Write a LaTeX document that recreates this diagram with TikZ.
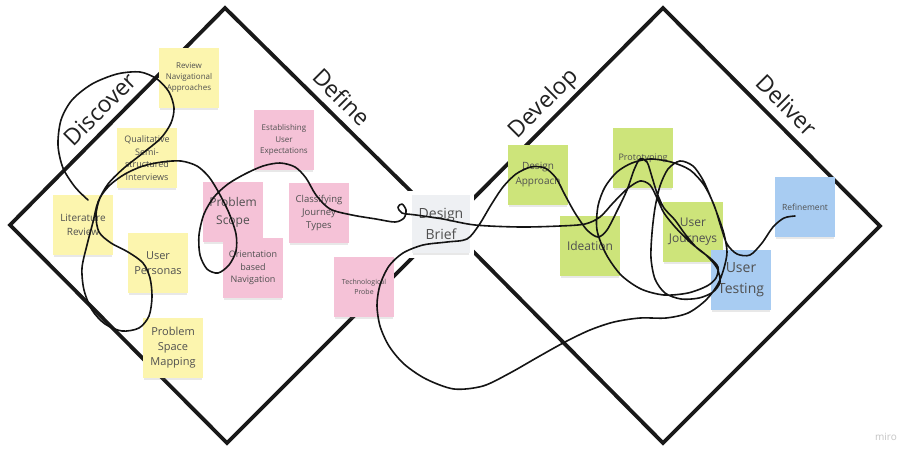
\documentclass[tikz,border=0pt]{standalone}
\usepackage{fontspec}
\setmainfont{Open Sans}
\usetikzlibrary{shadows}
\definecolor{ny}{HTML}{FCF5AE}
\definecolor{np}{HTML}{F5C2D7}
\definecolor{ng}{HTML}{CDE47A}
\definecolor{nb}{HTML}{A8CCF2}
\definecolor{nw}{HTML}{EEF0F3}
\definecolor{notetext}{HTML}{505050}
\definecolor{labtext}{HTML}{222222}
\definecolor{wm}{HTML}{C4C4C4}
\newcommand{\fs}[2]{\fontsize{#1}{#2}\selectfont}
\begin{document}
\begin{tikzpicture}[x=1pt,y=-1pt,
  note/.style={rectangle, minimum width=60pt, minimum height=60pt, inner sep=0pt,
    align=center, text=notetext,
    drop shadow={shadow xshift=0pt, shadow yshift=-3pt, opacity=0.18, shadow scale=0.96}},
  yel/.style={note, fill=ny},
  pnk/.style={note, fill=np},
  grn/.style={note, fill=ng},
  blu/.style={note, fill=nb},
  gry/.style={note, fill=nw, minimum width=58pt, minimum height=58pt},
  diam/.style={line width=3.8pt, black!90, line join=miter},
  lab/.style={font=\fs{23}{26}, text=labtext, inner sep=0pt},
  scrib/.style={line width=1.6pt, black!92, line cap=round, line join=round}]
\fill[white] (0,0) rectangle (911,451);
\useasboundingbox (0,0) rectangle (911,451);

% diamonds
\draw[diam] (225,8) -- (10,225) -- (227,443) -- (445,225) -- cycle;
\draw[diam] (663,8) -- (880,226) -- (663,443) -- (447,225) -- cycle;

% white margin behind design brief
\fill[white] (408,191) rectangle (474,258);

% phase labels
\node[lab, rotate=45]  (ldisc) at (100,109) {Discover};
\node[lab, rotate=-45] (ldef)  at (342,97)  {Define};
\node[lab, rotate=45]  (ldev)  at (544,104) {Develop};
\node[lab, rotate=-45] (ldel)  at (787,105) {Deliver};

% discover notes
\node[yel, font=\fs{8}{11}]    (rev)  at (189,78)  {Review\\Navigational\\Approaches};
\node[yel, font=\fs{9}{12.5}]  (qual) at (147,158) {Qualitative\\Semi-\\structured\\Interviews};
\node[yel, font=\fs{10}{14}]   (lit)  at (83,225)  {Literature\\Review};
\node[yel, font=\fs{11}{15}]   (pers) at (158,263) {User\\Personas};
\node[yel, font=\fs{11}{15}]   (psm)  at (173,348) {Problem\\Space\\Mapping};

% define notes
\node[pnk, font=\fs{8}{11.5}]  (est)    at (284,140) {Establishing\\User\\Expectations};
\node[pnk, font=\fs{12}{18}]   (scope)  at (233,212) {Problem\\Scope};
\node[pnk, font=\fs{9.5}{13.3}] (class) at (319,213) {Classifying\\Journey\\Types};
\node[pnk, font=\fs{9}{12.5}]  (orient) at (253,268) {Orientation\\based\\Navigation};
\node[pnk, font=\fs{7}{10}]    (tech)   at (364,287) {Technological\\Probe};

% design brief
\node[gry, font=\fs{14}{21}]   (brief) at (441,224) {Design\\Brief};

% develop notes
\node[grn, font=\fs{10}{15}]   (dapp)  at (538,175) {Design\\Approach};
\node[grn, font=\fs{9}{12}]    (proto) at (643,158) {Prototyping};
\node[grn, font=\fs{12}{16}]   (idea)  at (590,246) {Ideation};
\node[grn, font=\fs{12}{16}]   (journ) at (693,232) {User\\Journeys};

% deliver notes
\node[blu, font=\fs{14}{21}]   (test)   at (741,280) {User\\Testing};
\node[blu, font=\fs{8.5}{11}]  (refine) at (805,207) {Refinement};

% freehand path
\draw[scrib] plot[smooth, tension=0.5] coordinates {
 (88,200) (75,187) (63,168) (58,145) (61,120) (72,100) (92,84) (117,74) (140,72)
 (157,79) (169,92) (174,108) (171,123) (161,138) (143,153) (124,168) (108,184)
 (98,202) (93,222) (87,245) (82,268) (84,290) (92,310) (105,324) (122,331)
 (139,328) (149,316) (152,297) (150,278) (143,263) (128,252) (111,243) (99,232)
 (96,215) (100,198) (110,185) (125,174) (143,166) (162,162) (181,161) (197,166)
 (209,177) (219,193) (229,213) (236,234) (236,251) (229,265) (218,273) (207,269)
 (200,255) (199,235) (204,214) (214,197) (228,184) (245,174) (263,166) (280,163)
 (295,167) (306,178) (316,195) (330,209) (352,215) (376,219) (395,222) (404,218)
 (406,210) (402,204) (398,207) (402,213) (416,215) (443,219) (475,225) (520,227)
 (560,226) (585,224) (600,217) (613,203) (627,189) (640,181) (650,185) (657,198)
 (664,213) (676,228) (691,243) (706,255) (717,268) (720,282) (713,292) (699,298)
 (681,299) (665,293) (655,279) (651,258) (652,233) (655,208) (660,186) (668,169)
 (680,161) (693,166) (703,180) (711,198) (718,216) (724,234) (727,252) (724,268)
 (718,284) (706,300) (688,313) (666,318) (640,318) (614,322) (590,330) (565,342)
 (538,357) (510,373) (483,386) (454,389) (426,379) (404,364) (389,346) (380,326)
 (377,305) (380,285) (389,266) (403,253) (423,245) (447,242) (467,239) (479,225)
 (491,205) (503,187) (516,174) (531,167) (545,168) (556,178) (565,195) (575,213)
 (587,230) (598,237) (607,230) (617,211) (627,190) (634,170) (640,159) (647,162)
 (652,177) (657,193) (664,208) (675,220) (685,234) (697,248) (710,258) (718,267)
 (716,278) (707,286) (688,293) (664,295) (641,289) (621,275) (606,254) (597,230)
 (598,206) (605,187) (617,172) (632,163) (650,159) (671,162) (690,170) (704,185)
 (714,205) (721,227) (727,244) (737,254) (750,255) (762,243) (773,227) (784,218)
 (795,216)};

% watermark
\node[font=\fs{10}{12}, text=wm, inner sep=0pt] (miro) at (886,437) {miro};
\end{tikzpicture}
\end{document}
